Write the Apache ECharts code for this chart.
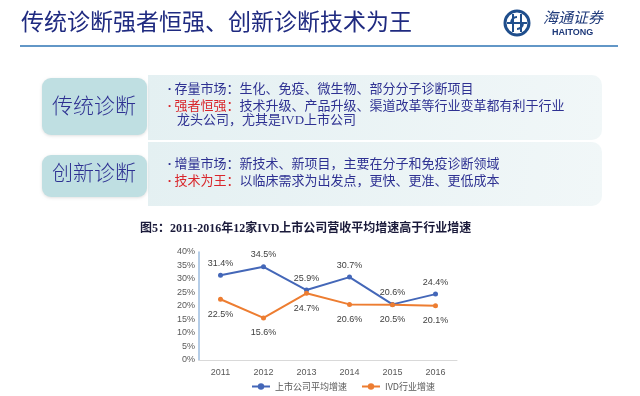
<!DOCTYPE html>
<html>
<head>
<meta charset="utf-8">
<script src="https://cdn.jsdelivr.net/npm/echarts@6/dist/echarts.min.js"></script>
<style>
html,body{margin:0;padding:0;background:#fff;}
#c{width:640px;height:396px;}
</style>
</head>
<body>
<div id="c"></div>
<script>
// ---- data ----
var years = ['2011', '2012', '2013', '2014', '2015', '2016'];
var listedAvg = [31.4, 34.5, 25.9, 30.7, 20.6, 24.4];
var ivdIndustry = [22.5, 15.6, 24.7, 20.6, 20.5, 20.1];
var seriesNames = ['上市公司平均增速', 'IVD行业增速'];
var yTicks = { min: 0, max: 40, interval: 5 };

var slideTitle = '传统诊断强者恒强、创新诊断技术为王';
var chartTitle = '图5：2011-2016年12家IVD上市公司营收平均增速高于行业增速';

var navy = '#2E3192';
var red = '#D9262B';
var cjk = '"Liberation Serif","Noto Sans CJK SC",serif';

var chart = echarts.init(document.getElementById('c'), null, { renderer: 'canvas' });

function bulletRow(x, y, head, body, headRed) {
  return {
    type: 'text', left: x, top: y,
    style: {
      text: '{b|•} {' + (headRed ? 'r' : 'n') + '|' + head + '}{n|' + body + '}',
      rich: {
        b: { fill: headRed ? red : navy, fontSize: 9, fontFamily: cjk },
        r: { fill: red, fontSize: 13, fontFamily: cjk },
        n: { fill: navy, fontSize: 13, fontFamily: cjk }
      }
    }
  };
}

var graphics = [
  // slide title
  { type: 'text', left: 21, top: 10, style: { text: slideTitle, fill: '#1F2A80', fontSize: 23, fontFamily: '"Noto Sans CJK SC",sans-serif' } },
  { type: 'line', shape: { x1: 20, y1: 46, x2: 618, y2: 46 }, style: { stroke: '#2E74B5', lineWidth: 1.5 } },
  // logo
  { type: 'circle', shape: { cx: 517, cy: 23, r: 12 }, style: { fill: 'none', stroke: '#1F4E8C', lineWidth: 3 } },
  { type: 'line', shape: { x1: 507, y1: 23, x2: 527, y2: 23 }, style: { stroke: '#1F4E8C', lineWidth: 2 } },
  { type: 'line', shape: { x1: 513, y1: 14, x2: 513, y2: 32 }, style: { stroke: '#1F4E8C', lineWidth: 2 } },
  { type: 'line', shape: { x1: 521, y1: 14, x2: 521, y2: 32 }, style: { stroke: '#1F4E8C', lineWidth: 2 } },
  { type: 'arc', shape: { cx: 517, cy: 23, r: 6, startAngle: Math.PI, endAngle: Math.PI * 1.5 }, style: { fill: 'none', stroke: '#1F4E8C', lineWidth: 2 } },
  { type: 'arc', shape: { cx: 517, cy: 23, r: 6, startAngle: 0, endAngle: Math.PI * 0.5 }, style: { fill: 'none', stroke: '#1F4E8C', lineWidth: 2 } },
  { type: 'text', left: 543, top: 10, style: { text: '海通证券', fill: '#1F3A7A', fontSize: 15, fontStyle: 'italic', fontFamily: '"Noto Sans CJK SC",sans-serif' } },
  { type: 'text', left: 552, top: 28, style: { text: 'HAITONG', fill: '#1F3A7A', fontSize: 9, fontWeight: 'bold', fontFamily: '"Liberation Sans",Arial,sans-serif' } },
  // panels
  { type: 'rect', shape: { x: 148, y: 75, width: 454, height: 65, r: [0, 10, 10, 0] },
    style: { fill: new echarts.graphic.LinearGradient(0, 0, 1, 1, [{ offset: 0, color: '#E4F0F2' }, { offset: 1, color: '#F1F7F8' }]) } },
  { type: 'rect', shape: { x: 148, y: 142, width: 454, height: 64, r: [0, 10, 10, 0] },
    style: { fill: new echarts.graphic.LinearGradient(0, 0, 1, 1, [{ offset: 0, color: '#E4F0F2' }, { offset: 1, color: '#F1F7F8' }]) } },
  // label boxes
  { type: 'rect', shape: { x: 42, y: 78, width: 105, height: 57, r: 9 }, style: { fill: '#BFDFE2', shadowBlur: 3, shadowColor: 'rgba(0,0,0,0.12)', shadowOffsetY: 1 } },
  { type: 'rect', shape: { x: 42, y: 155, width: 105, height: 42, r: 9 }, style: { fill: '#BFDFE2', shadowBlur: 3, shadowColor: 'rgba(0,0,0,0.12)', shadowOffsetY: 1 } },
  { type: 'text', left: 52, top: 95, style: { text: '传统诊断', fill: navy, fontSize: 21, fontWeight: 300, fontFamily: '"Noto Sans CJK SC",sans-serif' } },
  { type: 'text', left: 52, top: 162, style: { text: '创新诊断', fill: navy, fontSize: 21, fontWeight: 300, fontFamily: '"Noto Sans CJK SC",sans-serif' } },
  // bullet text
  bulletRow(168, 83, '存量市场：', '生化、免疫、微生物、部分分子诊断项目', false),
  bulletRow(168, 100, '强者恒强：', '技术升级、产品升级、渠道改革等行业变革都有利于行业', true),
  { type: 'text', left: 177, top: 114, style: { text: '龙头公司，尤其是IVD上市公司', fill: navy, fontSize: 13, fontFamily: cjk } },
  bulletRow(168, 158, '增量市场：', '新技术、新项目，主要在分子和免疫诊断领域', false),
  bulletRow(168, 175, '技术为王：', '以临床需求为出发点，更快、更准、更低成本', true)
];

var option = {
  backgroundColor: '#fff',
  animation: false,
  title: {
    text: chartTitle, left: 135, top: 218,
    textStyle: { fontSize: 12, fontWeight: 'bold', color: '#1A1A3A', fontFamily: cjk }
  },
  legend: {
    data: seriesNames, left: 246, top: 377, itemGap: 14, itemWidth: 18, itemHeight: 8,
    textStyle: { fontSize: 9, color: '#595959', fontFamily: '"Noto Sans CJK SC",sans-serif' }
  },
  grid: { left: 199, right: 183, top: 252, bottom: 36 },
  xAxis: {
    type: 'category', data: years, boundaryGap: true,
    axisTick: { show: false },
    axisLine: { lineStyle: { color: '#D9D9D9' } },
    axisLabel: { fontSize: 9, color: '#595959', margin: 8, fontFamily: '"Liberation Sans",sans-serif' }
  },
  yAxis: {
    type: 'value', min: yTicks.min, max: yTicks.max, interval: yTicks.interval,
    axisLine: { show: true, lineStyle: { color: '#9DBCDF', width: 1.5 } },
    axisTick: { show: false },
    splitLine: { show: false },
    axisLabel: { fontSize: 9, color: '#595959', margin: 4, formatter: '{value}%', fontFamily: '"Liberation Sans",sans-serif' }
  },
  series: [
    {
      name: seriesNames[0], type: 'line', data: listedAvg,
      symbol: 'circle', symbolSize: 5,
      itemStyle: { color: '#4467B8' }, lineStyle: { color: '#4467B8', width: 2 },
      label: { show: true, position: 'top', distance: 5, fontSize: 9, color: '#404040', formatter: function (p) { return p.value.toFixed(1) + '%'; } }
    },
    {
      name: seriesNames[1], type: 'line', data: ivdIndustry,
      symbol: 'circle', symbolSize: 5,
      itemStyle: { color: '#ED7D31' }, lineStyle: { color: '#ED7D31', width: 2 },
      label: { show: true, position: 'bottom', distance: 8, fontSize: 9, color: '#404040', formatter: function (p) { return p.value.toFixed(1) + '%'; } }
    }
  ],
  graphic: graphics
};
chart.setOption(option);
</script>
</body>
</html>
